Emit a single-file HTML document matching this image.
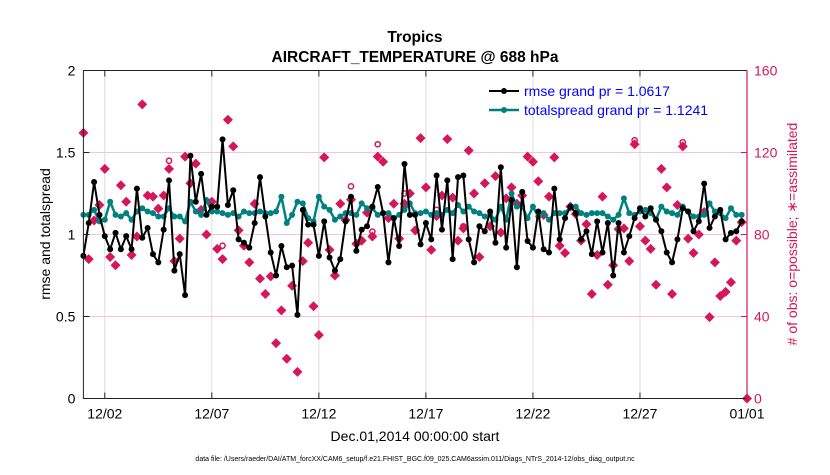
<!DOCTYPE html>
<html><head><meta charset="utf-8"><style>
body{margin:0;background:#fff;}
svg text{font-family:"Liberation Sans",sans-serif;}
</style></head><body>
<svg id="chart" width="830" height="470" xmlns="http://www.w3.org/2000/svg">
<rect width="830" height="470" fill="#fff"/>
<g id="grid"></g><g id="marks"></g><g id="axes"></g>
<text x="415" y="42" text-anchor="middle" font-size="15.5" font-weight="bold">Tropics</text>
<text x="415" y="62" text-anchor="middle" font-size="15.5" font-weight="bold">AIRCRAFT_TEMPERATURE @ 688 hPa</text>
<text x="415" y="441" text-anchor="middle" font-size="14">Dec.01,2014 00:00:00 start</text>
<text transform="translate(50,234) rotate(-90)" text-anchor="middle" font-size="14">rmse and totalspread</text>
<text transform="translate(797,234) rotate(-90)" text-anchor="middle" font-size="14" fill="#d6165a"># of obs: o=possible; ∗=assimilated</text>
<text x="415" y="461" text-anchor="middle" font-size="7">data file: /Users/raeder/DAI/ATM_forcXX/CAM6_setup/f.e21.FHIST_BGC.f09_025.CAM6assim.011/Diags_NTrS_2014-12/obs_diag_output.nc</text>
<g>
<line x1="489" y1="91" x2="519" y2="91" stroke="#000" stroke-width="2"/><circle cx="504" cy="91" r="3" fill="#000"/>
<text x="524" y="96" font-size="14" fill="#0000ff">rmse grand pr = 1.0617</text>
<line x1="489" y1="110" x2="519" y2="110" stroke="#008080" stroke-width="2.5"/><circle cx="504" cy="110" r="3" fill="#008080"/>
<text x="524" y="115" font-size="14" fill="#0000ff">totalspread grand pr = 1.1241</text>
</g>
</svg>
<script>
const rmse=[0.87,1.07,1.32,1.12,0.99,0.91,1.01,0.91,0.99,0.91,1.28,0.98,1.04,0.88,0.83,1.03,1.33,0.78,0.88,0.63,1.48,1.2,1.37,1.12,1.17,1.17,1.58,1.18,1.27,0.97,0.95,0.92,1.07,1.35,1.11,0.89,0.75,0.93,0.80,0.81,0.51,1.15,1.06,1.06,0.87,1.08,0.86,0.78,0.85,1.08,1.23,0.90,1.03,1.05,1.17,1.29,1.13,0.83,1.10,0.93,1.43,1.12,1.12,0.94,1.07,0.97,1.36,1.03,1.33,0.85,1.35,1.36,0.97,0.83,1.05,1.02,1.14,0.95,1.41,0.92,1.21,0.80,1.26,0.96,0.92,1.14,0.91,0.89,1.28,0.97,1.10,1.17,1.13,0.97,1.02,0.88,1.08,0.89,1.07,0.75,1.07,0.89,0.99,1.10,1.16,1.11,1.16,1.09,1.02,0.89,0.83,0.97,1.16,1.14,1.02,1.08,1.31,1.04,1.11,1.15,0.97,1.01,1.02,1.08];
const spread=[1.12,1.12,1.15,1.08,1.09,1.20,1.12,1.11,1.13,1.09,1.14,1.16,1.14,1.13,1.11,1.11,1.16,1.11,1.11,1.08,1.20,1.14,1.12,1.21,1.14,1.14,1.13,1.12,1.13,1.11,1.14,1.13,1.13,1.14,1.13,1.13,1.14,1.23,1.07,1.12,1.20,1.19,1.10,1.08,1.23,1.17,1.15,1.09,1.11,1.13,1.13,1.12,1.19,1.16,1.16,1.12,1.13,1.13,1.10,1.12,1.15,1.19,1.13,1.13,1.14,1.12,1.13,1.12,1.15,1.13,1.18,1.14,1.17,1.14,1.13,1.11,1.12,1.09,1.17,1.09,1.25,1.17,1.17,1.10,1.17,1.11,1.13,1.09,1.13,1.13,1.13,1.17,1.17,1.13,1.12,1.13,1.13,1.13,1.11,1.09,1.12,1.22,1.13,1.12,1.14,1.15,1.13,1.09,1.17,1.14,1.13,1.12,1.17,1.14,1.11,1.11,1.12,1.19,1.14,1.13,1.10,1.16,1.12,1.12];
const assimilated=[129.6,68,86.8,94.4,112,69,65,104,96,70,79,143.5,99,98.5,92.6,99,112,67,78,118,105,114.6,92,80,96,73,68,136,123,82,74.5,66.4,95,58.5,51,59.6,27,43,19.4,55,13,67,76,45,31,117.6,72.5,60,95,87,97,75.5,77,90.7,79,118,115.5,88,95,78,95,100,82,127,103,72.5,89,99,126.5,98,77,83,121,100,69,105,84,108.5,81,97.6,103,95,99,118,115.5,106,89.5,98.5,117.6,74.5,71,93.6,90,77,85,51,70,98.5,55.5,65,82.6,83,67,124,84,77,73,55.5,112,103,51,94.4,123,78,71,80,91,39.7,66.4,50,52,56.7,77,86,0];
const possibleIdx=[16,26,50,54,55,60,66,71,103,112];
const possibleVal=[116,74.5,103.5,81.4,124,100,92,84,126,125];
const xTicks=[1,6,11,16,21,26,31];
const xTickLabels=["12/02","12/07","12/12","12/17","12/22","12/27","01/01"];
const yTicks=[0,0.5,1,1.5,2];
const y2Ticks=[0,40,80,120,160];
const NS="http://www.w3.org/2000/svg";
const L=83.4,R=747,T=70.5,B=398.5;
const xd=d=>L+(R-L)*d/31;
const xi=i=>xd(i*0.25);
const y1=v=>B-(B-T)*v/2;
const y2=v=>B-(B-T)*v/160;
function mk(tag,attrs,parent){const e=document.createElementNS(NS,tag);for(const k in attrs)e.setAttribute(k,attrs[k]);parent.appendChild(e);return e;}
const grid=document.getElementById('grid'),marks=document.getElementById('marks'),axes=document.getElementById('axes');
xTicks.forEach((d,k)=>{
 const g=mk('line',{x1:xd(d),x2:xd(d),y1:T,y2:B,stroke:'#dcdcdc','stroke-width':1},grid);
 
 
 mk('line',{x1:xd(d),x2:xd(d),y1:B,y2:B-6,stroke:'#222'},axes);
 mk('line',{x1:xd(d),x2:xd(d),y1:T,y2:T+6,stroke:'#222'},axes);
 const t=mk('text',{x:xd(d),y:B+20,'text-anchor':'middle','font-size':14},axes);t.textContent=xTickLabels[k];
 
 
});
y2Ticks.forEach(v=>{
 if(v>0&&v<160){const g=mk('line',{x1:L,x2:R,y1:y2(v),y2:y2(v),stroke:'#f4c6d4','stroke-width':1},grid);
 
 }
 mk('line',{x1:R,x2:R-6,y1:y2(v),y2:y2(v),stroke:'#d6165a'},axes);
 const t=mk('text',{x:R+7,y:y2(v)+5,'font-size':14,fill:'#d6165a'},axes);t.textContent=v;
 
 
});
yTicks.forEach(v=>{
 mk('line',{x1:L,x2:L+6,y1:y1(v),y2:y1(v),stroke:'#222'},axes);
 const t=mk('text',{x:L-8,y:y1(v)+5,'font-size':14,'text-anchor':'end'},axes);t.textContent=v;
 
 
});
mk('path',{d:`M${R},${T}H${L}V${B}H${R}`,fill:'none',stroke:'#222','stroke-width':1},axes);
mk('line',{x1:R,x2:R,y1:T,y2:B,stroke:'#d6165a','stroke-width':1.2},axes);
assimilated.forEach((v,i)=>{
 const x=xi(i),y=y2(v);
 const p=mk('path',{d:`M${x},${y-5}L${x+5},${y}L${x},${y+5}L${x-5},${y}Z`,fill:'#d6165a'},marks);
 
 
});
possibleIdx.forEach((i,k)=>{
 const c=mk('circle',{cx:xi(i),cy:y2(possibleVal[k]),r:2.6,fill:'none',stroke:'#d6165a','stroke-width':1.5},marks);
 
 
});
function series(arr,color,w,name){
 const pl=mk('polyline',{points:arr.map((v,i)=>xi(i)+','+y1(v)).join(' '),fill:'none',stroke:color,'stroke-width':w,'stroke-linejoin':'round'},marks);
 
 
 arr.forEach((v,i)=>{const c=mk('circle',{cx:xi(i),cy:y1(v),r:3,fill:color},marks);
 
 });
}
series(spread,'#008080',2.5,'totalspread');
series(rmse,'#000000',2,'rmse');
</script>
</body></html>
